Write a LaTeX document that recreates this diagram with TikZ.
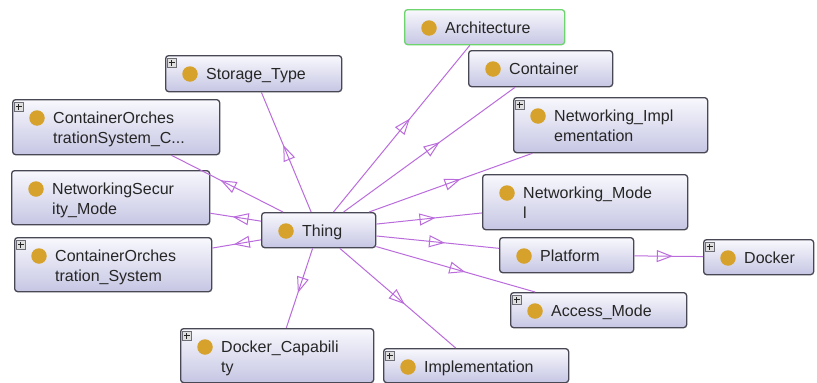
\documentclass[tikz,border=0pt]{standalone}
\usepackage{fontspec}
\setmainfont{Liberation Sans}
\usetikzlibrary{arrows.meta,decorations.markings,calc}
\definecolor{edgec}{RGB}{186,108,220}
\definecolor{dotc}{RGB}{214,162,44}
\definecolor{boxtop}{RGB}{248,248,253}
\definecolor{boxbot}{RGB}{198,198,228}
\definecolor{boxline}{RGB}{72,72,84}
\definecolor{archline}{RGB}{110,212,110}
\definecolor{txt}{RGB}{38,38,38}
\tikzset{
  clsbox/.style={rectangle, rounded corners=3pt, draw=boxline, line width=1.3pt,
    top color=boxtop, bottom color=boxbot, inner sep=0pt},
  dot/.style={circle, fill=dotc, minimum size=15.5pt, inner sep=0pt},
  lbl/.style={font=\fontsize{16}{20}\selectfont, text=txt, inner sep=0pt},
  plusbox/.style={rectangle, draw=boxline!80, line width=0.6pt, fill=gray!25,
    minimum size=9pt, inner sep=0pt,
    path picture={\draw[line width=1pt, black!85]
      ($(path picture bounding box.center)+(-3,0)$) -- ($(path picture bounding box.center)+(3,0)$)
      ($(path picture bounding box.center)+(0,-3)$) -- ($(path picture bounding box.center)+(0,3)$);}},
  edge/.style={draw=edgec, line width=1pt,
    postaction={decorate},
    decoration={markings, mark=at position 0.56 with {\arrow[edgec, line width=1pt]{Triangle[open, length=16pt, width=12pt]}}}}
}
\newcommand\klass[7][boxline]{%
  \node[clsbox, draw=#1, minimum width=#5pt, minimum height=#6pt, anchor=north west] (#2) at (#3,#4) {};
  \node[dot] (#2-d) at ($(#2.north west)+(25,19)$) {};
  \node[lbl, anchor=base west] (#2-t) at ($(#2.north west)+(41,24)$)
    {\begin{tabular}[t]{@{}l@{}}#7\end{tabular}};
}
\newcommand\plusicon[1]{%
  \node[plusbox, anchor=north west] (#1-p) at ($(#1.north west)+(2,3)$) {};
}
\begin{document}
\begin{tikzpicture}[x=1pt,y=-1pt]
\useasboundingbox (0,0) rectangle (817,383);
\fill[white] (0,0) rectangle (817,383);
% nodes
\klass[archline]{arch}{404}{9}{160}{35}{Architecture}
\klass{container}{468}{50}{144}{36}{Container}
\klass{netimpl}{513}{97}{194}{55}{Networking\_Impl\\ementation}
\klass{netmodel}{482}{174}{205}{55}{Networking\_Mode\\l}
\klass{platform}{499}{237}{134}{35}{Platform}
\klass{docker}{703}{239}{110}{35}{Docker}
\klass{access}{510}{292}{176}{35}{Access\_Mode}
\klass{impl}{383}{348}{185}{34}{Implementation}
\klass{dockercap}{180}{328}{193}{54}{Docker\_Capabili\\ty}
\klass{cos}{14}{237}{197}{54}{ContainerOrches\\tration\_System}
\klass{netsec}{11}{170}{198}{54}{NetworkingSecur\\ity\_Mode}
\klass{cosc}{12}{99}{207}{55}{ContainerOrches\\trationSystem\_C...}
\klass{storage}{165}{55}{176}{36}{Storage\_Type}
\klass{thing}{261}{212}{114}{35}{Thing}
\foreach \n in {netimpl,docker,access,impl,dockercap,cos,cosc,storage}{\plusicon{\n}}
% edges
\path[edge] (thing) -- (arch);
\path[edge] (thing) -- (container);
\path[edge] (thing) -- (netimpl);
\path[edge] (thing) -- (netmodel);
\path[edge] (thing) -- (platform);
\path[edge] (thing) -- (access);
\path[edge] (thing) -- (impl);
\path[edge] (thing) -- (dockercap);
\path[edge] (thing) -- (cos);
\path[edge] (thing) -- (netsec);
\path[edge] (thing) -- (cosc);
\path[edge] (thing) -- (storage);
\path[edge] (platform) -- (docker);
\end{tikzpicture}
\end{document}
